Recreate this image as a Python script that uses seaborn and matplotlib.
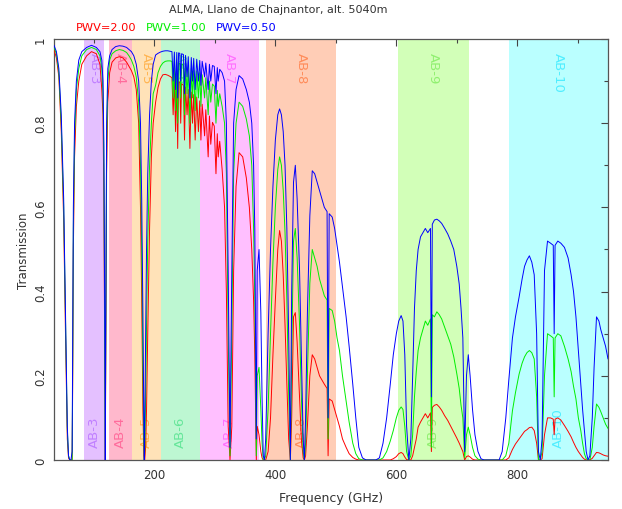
import numpy as np
import pandas as pd
import matplotlib
matplotlib.use("Agg")
import matplotlib.pyplot as plt
import seaborn as sns
from matplotlib.ticker import MultipleLocator

sns.set_style("white")
plt.rcParams['font.family'] = ['DejaVu Sans']

# frequency grid (GHz)
freq = [34, 38, 42, 46, 50, 53, 56, 58, 60, 62, 64, 65, 66, 68, 71, 75, 80, 88, 96, 104,
        110, 113, 115, 116.5, 118, 118.75, 119.5, 121, 123,
        126, 130, 136, 142, 148, 154, 158, 162, 166, 170, 174, 177, 179, 181, 182.5, 183.3,
        184, 185.5, 187, 189, 192, 195, 198,
        202, 206, 210, 214, 218, 222, 226, 229, 231, 233, 235, 237, 238.5, 240, 242, 243.5,
        245, 248, 249.8, 251.5, 254, 256, 258.7, 261, 263, 265, 267.4, 270, 272.8, 275,
        276.9, 279, 283, 285, 288.9, 291, 293.2, 296, 299, 301.8, 304, 305.5, 308, 312, 316,
        319, 322, 325, 328, 331, 335, 340, 346, 352, 357, 361, 364, 366, 368.5, 370, 373,
        376, 378, 380, 382,
        384, 388, 392, 396, 400, 404, 407, 410, 413, 416, 419, 422, 424.8, 427, 430, 433,
        436, 440, 443, 446, 448, 450, 453, 457, 461, 465, 469, 473, 477, 481, 485.5, 487.2,
        489, 494, 498, 502, 506, 511, 517, 522, 528, 533, 538, 544, 550, 556,
        560, 566, 572, 578, 584, 590, 595, 600, 604, 608, 611, 614, 617, 620.7, 624, 627,
        630, 633, 636, 640, 644, 648, 652, 656.5, 658, 659.5, 663, 667, 671, 675, 680, 685, 690,
        695, 700, 704, 707, 710, 713, 716, 719, 722, 726, 730, 735, 740, 745, 752, 760, 766,
        770, 775, 781, 786, 792, 797, 803, 808, 812, 816, 820, 824, 828, 832, 835, 838, 841,
        845, 850, 855, 859.5, 861, 862.5, 867, 872, 878, 884, 889, 893, 897, 901, 905, 908, 911,
        914, 917, 920, 924, 927, 931, 935, 938, 942, 946, 950]

# transmission, PWV = 0.50 mm (blue)
pwv_050 = [.985, .97, .93, .82, .62, .35, .08, .01, 0, 0, .02, .3, .6, .8, .9, .95, .97, .98, .985, .98,
           .97, .95, .9, .75, .3, 0, .3, .8, .93,
           .96, .975, .982, .984, .983, .98, .975, .97, .96, .94, .9, .8, .62, .35, .1, 0,
           .08, .3, .5, .68, .82, .9, .94,
           .962, .966, .969, .971, .972, .972, .971, .97, .9, .969, .88, .968, .86, .967, .966, .9,
           .965, .963, .87, .961, .91, .958, .86, .956, .9, .954, .88, .952, .9, .949,
           .89, .947, .91, .943, .88, .94, .9, .937, .935, .87, .932, .9, .928, .92, .9,
           .8, .45, .03, .45, .8, .88, .913, .905, .88, .85, .8, .7, .55, .05, .45, .5,
           .35, .15, .01, 0,
           .05, .3, .5, .65, .76, .82, .834, .82, .78, .7, .55, .3, 0, .4, .66, .7,
           .62, .45, .25, .05, 0, .1, .35, .58, .687, .68, .66, .64, .62, .6, .59, .1,
           .585, .577, .55, .51, .47, .41, .34, .27, .18, .1, .03, .005, 0, 0,
           0, 0, .005, .04, .1, .18, .25, .3, .33, .343, .33, .25, .08, 0, .05, .2,
           .36, .45, .5, .53, .54, .55, .54, .55, .15, .56, .57, .572, .568, .562, .55, .537, .52,
           .5, .46, .418, .36, .29, .02, .2, .25, .2, .12, .06, .02, .003, 0, 0, 0, 0,
           0, .02, .1, .19, .29, .34, .387, .43, .46, .475, .485, .47, .44, .3, .02, 0, .05,
           .45, .52, .515, .51, .3, .51, .52, .515, .505, .48, .44, .4, .34, .26, .18, .12, .07,
           .02, 0, .01, .1, .22, .34, .33, .31, .29, .27, .24]

# transmission, PWV = 1.00 mm (green)
pwv_100 = [.98, .965, .92, .8, .6, .33, .07, .01, 0, 0, 0, .25, .55, .77, .88, .93, .96, .975, .98, .975,
           .96, .93, .87, .7, .25, 0, .25, .75, .9,
           .95, .965, .972, .975, .973, .968, .96, .95, .935, .91, .85, .7, .5, .22, .04, 0,
           .02, .15, .32, .52, .7, .8, .87,
           .89, .92, .935, .943, .947, .948, .948, .947, .86, .946, .83, .944, .8, .943, .942, .86,
           .94, .938, .82, .936, .87, .933, .8, .93, .86, .927, .83, .924, .86, .92,
           .84, .915, .86, .908, .82, .9, .85, .893, .888, .8, .878, .84, .87, .84, .8,
           .68, .3, .01, .3, .68, .8, .85, .84, .81, .77, .7, .55, .38, .01, .2, .22,
           .12, .04, 0, 0,
           .01, .12, .3, .47, .6, .69, .72, .7, .64, .54, .38, .16, 0, .25, .52, .55,
           .48, .32, .15, .02, 0, .04, .2, .42, .5, .48, .46, .43, .41, .39, .38, .05,
           .36, .355, .33, .29, .26, .2, .14, .09, .04, .015, .003, 0, 0, 0,
           0, 0, 0, .005, .02, .045, .07, .1, .118, .126, .12, .08, .02, 0, .01, .06,
           .15, .21, .26, .29, .31, .33, .32, .335, .03, .345, .34, .352, .345, .335, .315, .295, .275,
           .245, .205, .17, .13, .1, .005, .06, .078, .06, .03, .01, .002, 0, 0, 0, 0, 0,
           0, 0, .01, .04, .117, .16, .204, .23, .245, .255, .26, .255, .24, .15, 0, 0, .02,
           .2, .3, .295, .29, .15, .29, .3, .295, .27, .24, .21, .175, .145, .1, .07, .04, .015,
           .003, 0, 0, .03, .08, .133, .125, .115, .1, .085, .075]

# transmission, PWV = 2.00 mm (red)
pwv_200 = [.975, .955, .91, .78, .57, .3, .05, .005, 0, 0, 0, .2, .5, .72, .84, .9, .94, .96, .97, .965,
           .94, .88, .82, .62, .2, 0, .2, .68, .85,
           .92, .945, .955, .958, .955, .945, .935, .925, .91, .88, .8, .6, .38, .12, .01, 0,
           0, .03, .12, .3, .55, .72, .8,
           .85, .885, .905, .915, .916, .914, .911, .908, .82, .905, .78, .902, .74, .899, .897, .8,
           .894, .89, .76, .886, .82, .88, .74, .874, .8, .868, .76, .862, .78, .853,
           .76, .845, .77, .832, .72, .817, .75, .802, .793, .68, .775, .72, .757, .69, .6,
           .4, .08, 0, .08, .45, .65, .73, .72, .67, .6, .5, .38, .25, 0, .08, .06,
           .02, .005, 0, 0,
           0, .02, .1, .25, .38, .5, .545, .52, .44, .32, .18, .05, 0, .1, .34, .35,
           .28, .15, .05, .005, 0, .01, .08, .2, .25, .24, .22, .2, .19, .18, .17, .01,
           .145, .14, .12, .1, .08, .05, .03, .015, .006, .002, 0, 0, 0, 0,
           0, 0, 0, 0, 0, 0, .003, .008, .015, .018, .015, .007, .001, 0, 0, .01,
           .03, .05, .078, .09, .1, .11, .1, .112, .02, .125, .13, .132, .126, .118, .105, .094, .08,
           .066, .052, .04, .03, .02, 0, .008, .01, .007, .002, 0, 0, 0, 0, 0, 0, 0,
           0, 0, 0, .005, .025, .038, .05, .06, .068, .072, .077, .078, .07, .04, 0, 0, .003,
           .06, .1, .1, .097, .06, .097, .1, .095, .082, .068, .055, .042, .03, .02, .012, .006, .002,
           0, 0, 0, .004, .01, .018, .017, .015, .012, .01, .009]

assert len(freq) == len(pwv_050) == len(pwv_100) == len(pwv_200)

# ALMA bands
band_names = ['AB-3', 'AB-4', 'AB-5', 'AB-6', 'AB-7', 'AB-8', 'AB-9', 'AB-10']
band_lo = [84, 125, 163, 211, 275, 385, 602, 787]
band_hi = [116, 163, 211, 275, 373, 500, 720, 950]
band_fill = ['#e4c0ff', '#ffb8cc', '#ffe2b8', '#bdf7d2', '#ffbfff', '#ffcdb6', '#d2ffb8', '#baffff']
band_text = ['#c080ff', '#ff6c9c', '#ffb450', '#66e69a', '#ff70ff', '#ff8c5a', '#90f070', '#50eeff']

pwv_labels = ['2.00', '1.00', '0.50']
pwv_colors = ['#ff0000', '#00ee00', '#0000ff']

df = pd.DataFrame({
    'freq': freq * 3,
    'trans': pwv_200 + pwv_100 + pwv_050,
    'pwv': [pwv_labels[0]] * len(freq) + [pwv_labels[1]] * len(freq) + [pwv_labels[2]] * len(freq),
})

fig = plt.figure(figsize=(6.22, 5.10), dpi=100)
ax = fig.add_axes([54 / 622, 49 / 510, 554 / 622, 421 / 510])

for name, lo, hi, fc, tc in zip(band_names, band_lo, band_hi, band_fill, band_text):
    ax.axvspan(lo, hi, color=fc, lw=0, zorder=0)
    mid = (lo + hi) / 2
    ax.text(mid, 0.97, name, rotation=-90, color=tc, fontsize=9.5,
            ha='center', va='top', zorder=1)
    ax.text(mid, 0.03, name, rotation=90, color=tc, fontsize=9.5,
            ha='center', va='bottom', zorder=1)

sns.lineplot(data=df, x='freq', y='trans', hue='pwv', hue_order=pwv_labels,
             palette=pwv_colors, estimator=None, sort=False, lw=0.7,
             legend=False, ax=ax, zorder=3)

ax.set_xlim(34, 950)
ax.set_ylim(0, 1)
ax.xaxis.set_major_locator(MultipleLocator(200))
ax.xaxis.set_minor_locator(MultipleLocator(100))
ax.yaxis.set_major_locator(MultipleLocator(0.2))
ax.yaxis.set_minor_locator(MultipleLocator(0.1))
ax.set_yticks([0, 0.2, 0.4, 0.6, 0.8, 1.0])
ax.set_yticklabels(['0', '0.2', '0.4', '0.6', '0.8', '1'], rotation=90, va='center')
ax.tick_params(which='both', direction='in', top=True, right=True, colors='#444444',
               labelcolor='#333333', labelsize=8.5)
ax.tick_params(which='major', length=5, width=0.8)
ax.tick_params(which='minor', length=3, width=0.8)
ax.tick_params(axis='x', pad=6)
ax.tick_params(axis='y', pad=5)
for sp in ax.spines.values():
    sp.set_color('#555555')
    sp.set_linewidth(0.9)

ax.set_xlabel('Frequency (GHz)', fontsize=9, color='#333333', labelpad=7)
ax.set_ylabel('Transmission', fontsize=8.5, color='#333333', labelpad=3)

fig.text(278 / 622, 1 - 10 / 510, 'ALMA, Llano de Chajnantor, alt. 5040m',
         ha='center', va='center', fontsize=8, color='#333333')
for lbl, col, x0 in zip(pwv_labels, pwv_colors, [76, 146, 216]):
    fig.text(x0 / 622, 1 - 28 / 510, 'PWV=' + lbl, ha='left', va='center',
             fontsize=8.2, color=col)

fig.savefig('out.png', dpi=100)
